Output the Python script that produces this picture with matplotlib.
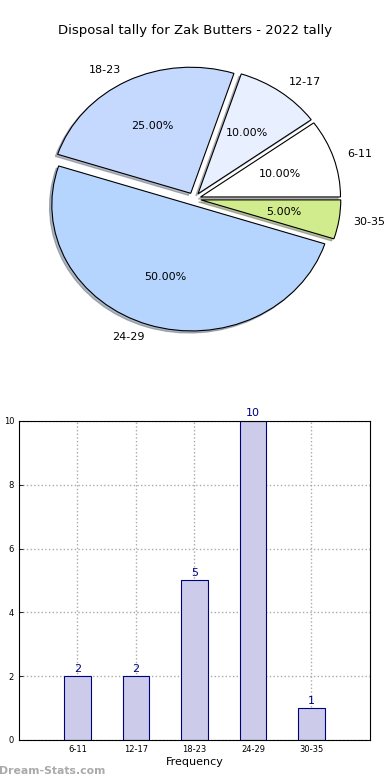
import matplotlib
matplotlib.use("Agg")
import matplotlib.pyplot as plt

categories = ["6-11", "12-17", "18-23", "24-29", "30-35"]
counts = [2, 2, 5, 10, 1]
pie_colors = ["#ffffff", "#e8f0ff", "#c5d9ff", "#b5d5ff", "#d0ec8c"]
title = "Disposal tally for Zak Butters - 2022 tally"

fig = plt.figure(figsize=(3.9, 7.8), dpi=100)

# Pie chart
axp = fig.add_axes([0.0487, 0.543, 0.897, 0.404])
wedges, texts, autotexts = axp.pie(
    counts, labels=categories, colors=pie_colors, autopct="%.2f%%",
    explode=[0.05] * len(counts),
    shadow={"ox": -0.012, "oy": -0.012, "shade": 0.5},
    startangle=0,
    wedgeprops=dict(edgecolor="black", linewidth=0.8),
    textprops=dict(fontsize=8))
axp.set_aspect("auto")
axp.set_xlim(-1.25, 1.25)
axp.set_ylim(-1.25, 1.25)
fig.text(0.5, 0.961, title, ha="center", va="center", fontsize=9.5)

# Bar chart
axb = fig.add_axes([0.0487, 0.0513, 0.9, 0.4090])
x = list(range(1, len(categories) + 1))
bars = axb.bar(x, counts, width=0.45, color="#ccccea", edgecolor="#000080", linewidth=0.8, zorder=2)
for xi, c in zip(x, counts):
    axb.text(xi, c + 0.08, str(c), ha="center", va="bottom", fontsize=8, color="#000080", clip_on=False)
axb.set_xlim(0, 6)
axb.set_ylim(0, 10)
axb.set_xticks(x)
axb.set_xticklabels(categories)
axb.set_yticks([0, 2, 4, 6, 8, 10])
axb.tick_params(labelsize=6, direction="in", length=3, width=0.6)
axb.grid(True, linestyle=":", color="#aaaaaa", linewidth=1.0, zorder=0)
axb.set_axisbelow(True)
axb.set_xlabel("Frequency", fontsize=8, labelpad=2)
axb.set_ylabel("Disposal tally", fontsize=7)
axb.yaxis.set_label_coords(-0.06, 0.5)
for s in axb.spines.values():
    s.set_linewidth(0.8)

fig.text(-0.002, 0.012, "Dream-Stats.com", ha="left", va="center", fontsize=7.8,
         color="#aaaaaa", fontweight="bold")

fig.savefig("out.png", dpi=100)
